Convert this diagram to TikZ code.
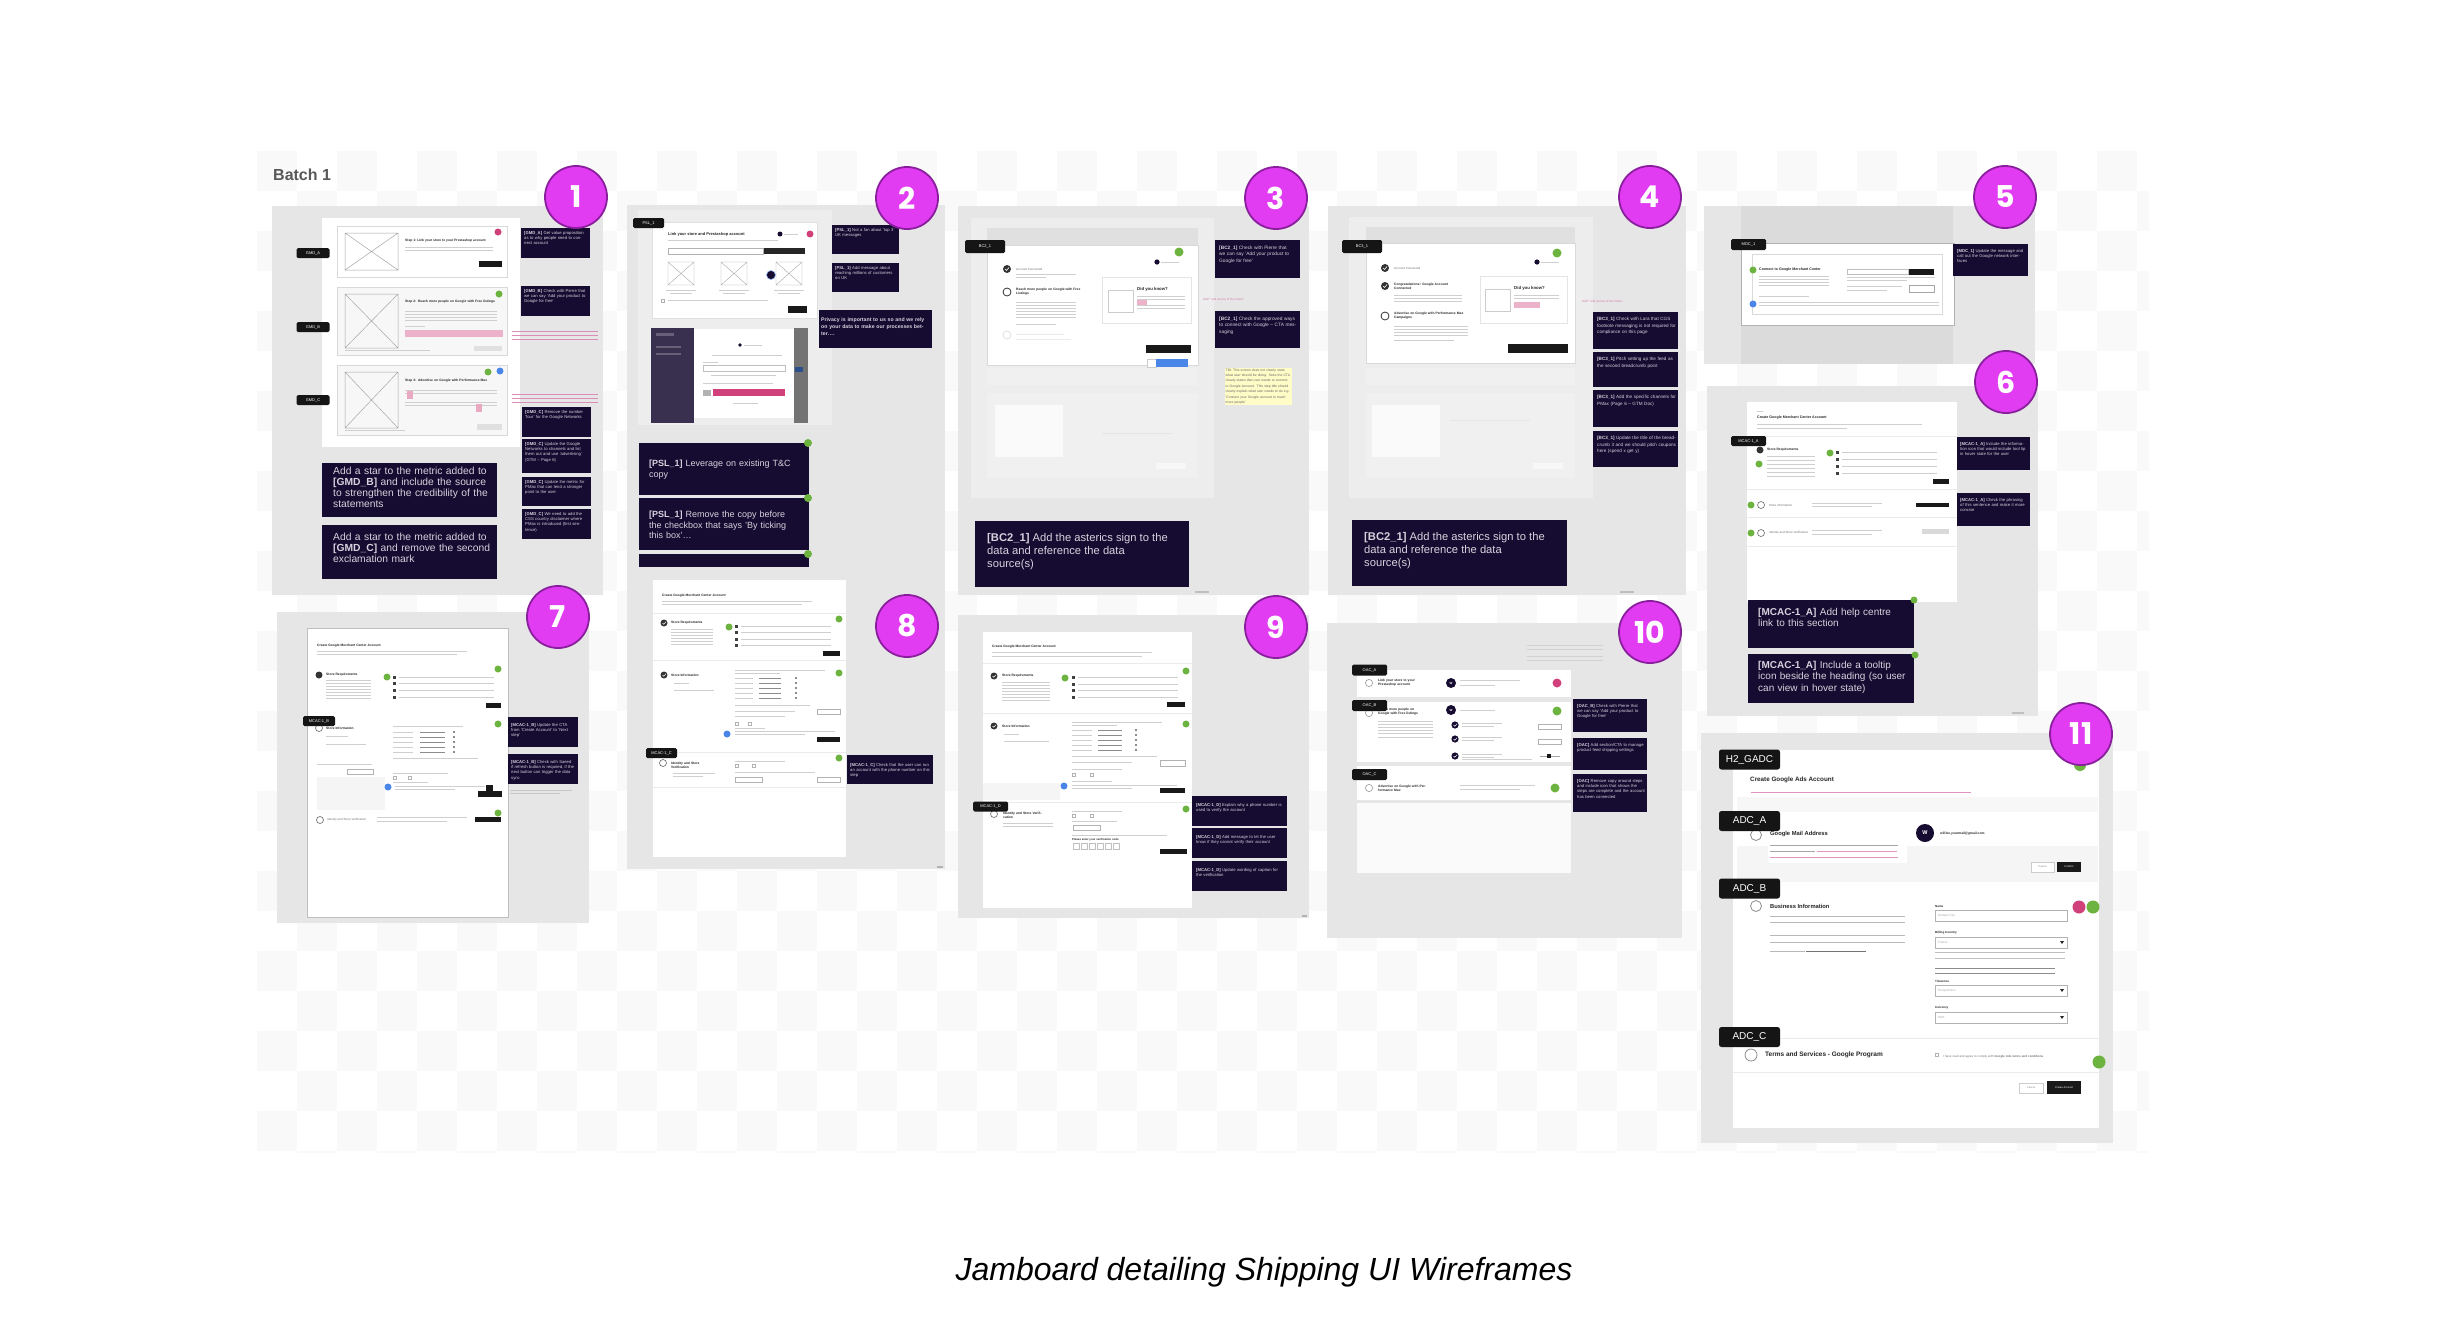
\documentclass[tikz,border=0pt]{standalone}
\usepackage{fontspec}
\setmainfont{Liberation Sans}
\newfontfamily\numfont{Poppins}
\usetikzlibrary{positioning}
\definecolor{panelgray}{HTML}{E6E6E6}
\definecolor{innergray}{HTML}{EDEDED}
\definecolor{notebg}{HTML}{160B30}
\definecolor{notefg}{HTML}{D6D3DE}
\definecolor{tagbg}{HTML}{151515}
\definecolor{badge}{HTML}{E23CF2}
\definecolor{badgeline}{HTML}{8A1F9E}
\definecolor{dotgreen}{HTML}{6DB33F}
\definecolor{dotpink}{HTML}{D0407A}
\definecolor{dotblue}{HTML}{4A86E8}
\definecolor{linkpink}{HTML}{C2408A}
\definecolor{barcol}{HTML}{CFCFCF}

\begin{document}
\begin{tikzpicture}[x=1pt,y=-1pt,
  badgenode/.style={circle,fill=badge,draw=badgeline,line width=1.8pt,minimum size=62pt,inner sep=0pt,text=white,font=\numfont\bfseries\fontsize{30}{30}\selectfont},
  tagnode/.style={fill=tagbg,text=white,rounded corners=1.5pt,inner sep=0pt,minimum width=33pt,minimum height=10pt,font=\fontsize{4}{4}\selectfont},
  bigtag/.style={fill=tagbg,text=white,rounded corners=2.5pt,inner sep=0pt,minimum width=61pt,minimum height=20pt,font=\fontsize{10}{10}\selectfont},
  snote/.style={anchor=north west,text=notefg,align=left,inner sep=0pt,font=\fontsize{4.2}{5.3}\selectfont},
  bnote/.style={anchor=north west,text=notefg,align=left,inner sep=0pt,font=\fontsize{10.3}{11}\selectfont},
  wfhead/.style={anchor=west,inner sep=0pt,align=left,text=black!85,font=\bfseries\fontsize{3.3}{4}\selectfont},
  wftext/.style={anchor=west,inner sep=0pt,align=left,text=black!55,font=\fontsize{3}{3.6}\selectfont}]

\useasboundingbox (0,0) rectangle (2442,1336);
\fill[white] (0,0) rectangle (2442,1336);
\begin{scope}
  \clip (257,151) rectangle (2149,1152);
  \foreach \i in {0,2,...,46}
    \foreach \j in {0,2,...,24} {
      \fill[black!2.5] (257+\i*40,151+\j*40) rectangle ++(40,40);
      \fill[black!2.5] (297+\i*40,191+\j*40) rectangle ++(40,40);
    }
\end{scope}
\node[anchor=west,inner sep=0pt,text=black!65,font=\bfseries\fontsize{16}{16}\selectfont] (batch) at (273,175) {Batch 1};

% panel 1
\fill[panelgray] (272,206) rectangle (603,595);
\fill[white] (322,218) rectangle (520,447);
\foreach \y/\h/\f in {226/51/white,287/68/black!3,365/70/black!3} {
  \filldraw[fill=\f,draw=black!15,line width=0.6pt] (337,\y) rectangle ++(170,\h);
  \draw[black!35,line width=0.5pt] (345,\y+7) rectangle ++(53,\h-14) (345,\y+7) -- ++(53,\h-14) (398,\y+7) -- ++(-53,\h-14);
}
\node[wfhead] (gmdh1) at (405,241) {Step 1: Link your store to your Prestashop account};
\node[wfhead,text width=95pt] (gmdh2) at (405,302) {Step 2: Reach more people on Google with Free listings};
\node[wfhead,text width=90pt] (gmdh3) at (405,381) {Step 3: Advertise on Google with Performance Max};
\foreach \y in {247,250} \fill[barcol] (405,\y) rectangle ++(88,1.1);
\foreach \y in {311,314,317,320} \fill[barcol] (405,\y) rectangle ++(92,1.1);
\foreach \y in {390,393,402,405} \fill[barcol] (405,\y) rectangle ++(92,1.1);
\fill[barcol] (405,326) rectangle ++(20,1.1);
\fill[dotpink!40] (405,330) rectangle (503,337);
\fill[black!90] (479,261) rectangle (502,267);
\fill[black!12] (474,346) rectangle (502,351);
\fill[black!12] (477,424) rectangle (502,430);
\fill[dotpink!45] (407,391) rectangle (413,399);
\fill[dotpink!45] (476,404) rectangle (482,412);
\fill[barcol] (345,350) rectangle ++(85,1);
\fill[barcol] (345,430) rectangle ++(60,1);
\fill[dotpink] (498,232) circle (3.5);
\fill[dotgreen] (499,294) circle (3.5);
\fill[dotgreen] (488,372) circle (3.5);
\fill[dotblue] (500,371) circle (3.5);
\foreach \y in {331,335,339} \fill[linkpink!60] (512,\y) rectangle ++(86,0.9);
\foreach \y in {394,398,402} \fill[linkpink!60] (512,\y) rectangle ++(86,0.9);
\node[tagnode] (gmda) at (313,253) {GMD\_A};
\node[tagnode] (gmdb) at (313,327) {GMD\_B};
\node[tagnode] (gmdc) at (313,400) {GMD\_C};
\foreach \x/\y/\h/\t [count=\k] in {521/228/30/{\textbf{[GMD\_A]} Get value proposition as to why people need to connect account},
  521/286/30/{\textbf{[GMD\_B]} Check with Pierre that we can say 'Add your product to Google for free'},
  522/407/30/{\textbf{[GMD\_C]} Remove the number 'four' for the Google Networks},
  522/439/34/{\textbf{[GMD\_C]} Update the Google Networks to channels and list them out and use 'advertising' (GTM -- Page 6)},
  522/477/29/{\textbf{[GMD\_C]} Update the metric for PMax that can lend a stronger point to the user},
  522/509/30/{\textbf{[GMD\_C]} We need to add the CSS country disclaimer where PMax is introduced (first sentence)}} {
  \fill[notebg] (\x,\y) rectangle ++(69,\h);
  \node[snote,text width=63pt] (gmdnote\k) at (\x+3,\y+3) {\t};
}
\fill[notebg] (322,463) rectangle (497,517);
\node[bnote,text width=160pt] (gmdbig1) at (333,467) {Add a star to the metric added to \textbf{[GMD\_B]} and include the source to strengthen the credibility of the statements};
\fill[notebg] (322,525) rectangle (497,579);
\node[bnote,text width=160pt] (gmdbig2) at (333,533) {Add a star to the metric added to \textbf{[GMD\_C]} and remove the second exclamation mark};

% panel 2
\fill[panelgray] (627,205) rectangle (945,578);
\fill[innergray] (638,210) rectangle (832,425);
\filldraw[fill=white,draw=black!12] (652,222) rectangle (817,318);
\node[wfhead,font=\bfseries\fontsize{4}{5}\selectfont] (pslhead) at (668,234) {Link your store and Prestashop account};
\fill[barcol] (668,240) rectangle ++(110,1.1);
\draw[black!30,line width=0.4pt] (668,248) rectangle (763,254);
\fill[black!85] (764,248) rectangle (805,254);
\foreach \x in {668,721,776} {
  \draw[black!35,line width=0.4pt] (\x,262) rectangle ++(26,23) (\x,262) -- ++(26,23) (\x+26,262) -- ++(-26,23);
  \fill[barcol] (\x-2,290) rectangle ++(30,1);
  \fill[barcol] (\x+2,293) rectangle ++(22,1);
}
\filldraw[fill=notebg,draw=dotblue!60,line width=0.6pt] (771,275) circle (4.5);
\draw[black!30,line width=0.4pt] (661,299) rectangle ++(3,3);
\fill[barcol] (668,300) rectangle ++(100,1);
\fill[black!90] (788,306) rectangle (807,313);
\fill[notebg] (780,234) circle (2.5);
\fill[barcol] (784,233.5) rectangle ++(14,1);
\fill[dotpink] (810,234) circle (3.5);
\fill[notebg!85!white] (651,328) rectangle (694,423);
\fill[white!35!notebg] (656,333) rectangle ++(18,3);
\fill[white!35!notebg] (656,346) rectangle ++(25,1.5);
\fill[white!35!notebg] (656,353) rectangle ++(25,1.5);
\fill[white] (694,329) rectangle (794,418);
\fill[black!55] (794,328) rectangle (808,423);
\fill[dotblue!60!black] (795,367) rectangle (803,372);
\fill[notebg] (740,345) circle (1.8);
\fill[barcol] (744,344.5) rectangle ++(18,1);
\fill[barcol] (712,355) rectangle ++(70,1.2);
\fill[barcol] (703,362) rectangle ++(15,1);
\draw[black!25,line width=0.4pt] (703,365) rectangle (785,371);
\fill[barcol] (711,375) rectangle ++(65,0.9);
\fill[barcol] (703,383) rectangle ++(70,0.9);
\fill[black!30] (703,390) rectangle (711,396);
\fill[dotpink] (713,389) rectangle (785,396);
\fill[barcol] (733,403) rectangle ++(25,0.9);
\node[tagnode,minimum width=31pt] (psl) at (648.5,223) {PSL\_1};
\foreach \y/\t [count=\k] in {225/{\textbf{[PSL\_1]} Not a fan about 'top 3' UK messages},
  263/{\textbf{[PSL\_1]} Add message about reaching millions of customers on UK}} {
  \fill[notebg] (832,\y) rectangle ++(67,29);
  \node[snote,text width=61pt] (pslnote\k) at (835,\y+3) {\t};
}
\fill[notebg] (819,310) rectangle (932,348);
\node[snote,text width=106pt,font=\bfseries\fontsize{5.2}{7}\selectfont] (pslpriv) at (821,318) {Privacy is important to us so and we rely on your data to make our processes better\dots.};
\fill[notebg] (639,443) rectangle (809,495);
\node[bnote,text width=150pt,font=\fontsize{9}{10.5}\selectfont] (pslbig1) at (649,460) {\textbf{[PSL\_1]} Leverage on existing T\&C copy};
\fill[notebg] (639,498) rectangle (809,550);
\node[bnote,text width=150pt,font=\fontsize{9}{10.5}\selectfont] (pslbig2) at (649,511) {\textbf{[PSL\_1]} Remove the copy before the checkbox that says 'By ticking this box'\dots};
\fill[notebg] (639,554) rectangle (809,567);
\foreach \y in {443,498,554} \fill[dotgreen] (808,\y) circle (4);

% panel 3
\fill[panelgray] (958,206) rectangle (1309,595);
\fill[innergray] (971,218) rectangle (1214,498);
\fill[black!12] (987,228) rectangle (1198,245);
\filldraw[fill=white,draw=black!15] (987,245) rectangle (1198,365);
\fill[black!6] (987,368) rectangle (1198,385);
\fill[black!6] (987,393) rectangle (1198,478);
\fill[black!2] (995,405) rectangle (1063,457);
\fill[black!10] (1102,433) rectangle ++(70,1.2);
\fill[black!3] (1156,463) rectangle ++(30,6);
\fill[black!80] (1007,269) circle (4);
\draw[white,line width=0.6pt] (1005,269) -- (1006.5,270.5) -- (1009,267.5);
\node[wftext] (bc2s1) at (1016,269) {Account Connected};
\fill[barcol] (1016,274) rectangle ++(60,1);
\fill[barcol] (1016,277) rectangle ++(30,1);
\draw[black!80,line width=0.8pt] (1007,292) circle (4);
\node[wfhead,text width=70pt] (bc2s2) at (1016,292) {Reach more people on Google with Free Listings};
\foreach \y in {302,305,308,311,314,317} \fill[barcol] (1016,\y) rectangle ++(60,1);
\fill[barcol] (1016,324) rectangle ++(40,1);
\draw[black!12,line width=0.8pt] (1007,335) circle (4);
\fill[black!8] (1016,334) rectangle ++(48,1);
\fill[black!8] (1016,339) rectangle ++(55,1);
\filldraw[fill=white,draw=black!10] (1102,277) rectangle (1191,323);
\node[wfhead,font=\bfseries\fontsize{4.3}{5}\selectfont] (bc2dyk) at (1137,289) {Did you know?};
\draw[black!20,line width=0.3pt] (1108,290) rectangle (1133,312);
\foreach \y in {296,299,305,308} \fill[barcol] (1137,\y) rectangle ++(48,1);
\fill[dotpink!40] (1137,300) rectangle ++(10,5);
\fill[black!90] (1146,345) rectangle (1191,353);
\draw[black!20,line width=0.3pt,fill=white] (1147,359) rectangle (1156,367);
\fill[dotblue] (1156,359) rectangle (1188,367);
\fill[dotgreen] (1179,252) circle (4.5);
\fill[notebg] (1157,262) circle (2.6);
\fill[barcol] (1161,261.5) rectangle ++(18,1);
\node[tagnode,minimum width=40pt,minimum height=13pt] (bc2) at (985,246.5) {BC2\_1};
\foreach \y/\h/\t [count=\k] in {240/38/{\textbf{[BC2\_1]} Check with Pierre that we can say 'Add your product to Google for free'},
  311/37/{\textbf{[BC2\_1]} Check the approved ways to connect with Google -- CTA messaging}} {
  \fill[notebg] (1215,\y) rectangle ++(85,\h);
  \node[snote,text width=79pt,font=\fontsize{4.8}{6.3}\selectfont] (bc2note\k) at (1219,\y+6) {\t};
}
\node[anchor=west,inner sep=0pt,text=linkpink!70,font=\fontsize{3}{3}\selectfont] (bc2pink) at (1203,299) {Add * and source of the metric};
\node[anchor=north west,inner sep=0.5pt,fill=yellow!22,text=black!60,text width=66pt,align=left,font=\fontsize{3.4}{5.4}\selectfont] (bc2tbi) at (1225,368) {TBI: This screen does not clearly state what user should be doing. Sees the CTA clearly states that user needs to connect to Google Account. This step title should clearly explain what user needs to do e.g. 'Connect your Google account to reach more people'};
\fill[notebg] (975,521) rectangle (1189,587);
\node[bnote,font=\fontsize{11.2}{13.3}\selectfont] (bc2big) at (987,533) {\textbf{[BC2\_1]} Add the asterics sign to the\\ data and reference the data\\ source(s)};
\fill[black!25] (1195,591) rectangle ++(14,1.5);

% panel 4
\fill[panelgray] (1328,206) rectangle (1686,595);
\fill[innergray] (1349,217) rectangle (1593,498);
\fill[black!12] (1366,227) rectangle (1575,243);
\filldraw[fill=white,draw=black!15] (1366,243) rectangle (1575,363);
\fill[black!6] (1366,368) rectangle (1575,385);
\fill[black!6] (1366,393) rectangle (1575,478);
\fill[black!2] (1372,405) rectangle (1440,457);
\fill[black!10] (1450,420) rectangle ++(80,1.2);
\fill[black!3] (1533,463) rectangle ++(30,6);
\foreach \y in {268,286} {
  \fill[black!80] (1385,\y) circle (4);
  \draw[white,line width=0.6pt] (1383,\y) -- (1384.5,\y+1.5) -- (1387,\y-1.5);
}
\node[wftext] (bc3s1) at (1394,268) {Account Connected};
\node[wfhead,text width=60pt] (bc3s2) at (1394,286) {Congratulations! Google Account Connected};
\foreach \y in {295,298,301} \fill[barcol] (1394,\y) rectangle ++(68,1);
\draw[black!80,line width=0.8pt] (1385,316) circle (4);
\node[wfhead,text width=75pt] (bc3s3) at (1394,316) {Advertise on Google with Performance Max Campaigns};
\foreach \y in {326,329,332,335} \fill[barcol] (1394,\y) rectangle ++(74,1);
\fill[barcol] (1394,340) rectangle ++(60,1);
\filldraw[fill=white,draw=black!10] (1480,276) rectangle (1567,323);
\node[wfhead,font=\bfseries\fontsize{4.3}{5}\selectfont] (bc3dyk) at (1514,288) {Did you know?};
\draw[black!20,line width=0.3pt] (1485,289) rectangle (1510,311);
\foreach \y in {295,298} \fill[barcol] (1514,\y) rectangle ++(45,1);
\fill[dotpink!40] (1514,302) rectangle ++(26,6);
\fill[black!90] (1508,344) rectangle (1568,353);
\fill[dotgreen] (1557,253) circle (4.5);
\fill[notebg] (1537,262) circle (2.6);
\fill[barcol] (1541,261.5) rectangle ++(18,1);
\node[tagnode,minimum width=40pt,minimum height=13pt] (bc3) at (1362,246.5) {BC3\_1};
\node[anchor=west,inner sep=0pt,text=linkpink!70,font=\fontsize{3}{3}\selectfont] (bc3pink) at (1582,301) {Add * and source of the metric};
\foreach \y/\h/\t [count=\k] in {312/37/{\textbf{[BC3\_1]} Check with Lara that CGS footnote messaging is not required for compliance on this page},
  352/35/{\textbf{[BC3\_1]} Pitch setting up the feed as the second breadcrumb point},
  390/37/{\textbf{[BC3\_1]} Add the specific channels for PMax (Page 6 -- GTM Doc)},
  431/36/{\textbf{[BC3\_1]} Update the title of the breadcrumb 3 and we should pitch coupons here (spend x get y)}} {
  \fill[notebg] (1593,\y) rectangle ++(85,\h);
  \node[snote,text width=79pt,font=\fontsize{4.6}{6.6}\selectfont] (bc3note\k) at (1597,\y+5) {\t};
}
\fill[notebg] (1352,520) rectangle (1567,586);
\node[bnote,font=\fontsize{11.2}{13.3}\selectfont] (bc3big) at (1364,532) {\textbf{[BC2\_1]} Add the asterics sign to the\\ data and reference the data\\ source(s)};
\fill[black!25] (1620,591) rectangle ++(14,1.5);

% panel 5
\fill[panelgray] (1704,206) rectangle (2035,364);
\fill[black!14] (1741,206) rectangle (1953,364);
\filldraw[fill=white,draw=black!30] (1741,243) rectangle (1954,325);
\draw[black!15] (1752,254) rectangle (1942,314);
\node[wfhead,font=\bfseries\fontsize{3.6}{4}\selectfont] (mdchead) at (1759,270) {Connect to Google Merchant Center};
\foreach \y in {276,279,282,285} \fill[barcol] (1759,\y) rectangle ++(70,1);
\fill[barcol] (1759,296) rectangle ++(50,1);
\fill[barcol] (1759,302) rectangle ++(180,0.9);
\fill[barcol] (1759,305) rectangle ++(180,0.9);
\draw[black!25,line width=0.4pt] (1847,269) rectangle (1908,274);
\fill[black!90] (1909,269) rectangle (1934,275);
\fill[barcol] (1847,277) rectangle ++(88,0.9);
\fill[barcol] (1847,280) rectangle ++(60,0.9);
\fill[barcol] (1847,286) rectangle ++(55,0.9);
\fill[barcol] (1847,290) rectangle ++(40,0.9);
\draw[black!35,line width=0.4pt] (1909,285) rectangle (1934,292);
\fill[dotgreen] (1753,270) circle (3.5);
\fill[dotblue] (1753,304) circle (3.5);
\node[tagnode,minimum width=35pt,minimum height=11pt] (mdc) at (1748.5,244.5) {MDC\_1};
\fill[notebg] (1953,244) rectangle (2028,276);
\node[snote,text width=68pt] (mdcnote) at (1957,249) {\textbf{[MDC\_1]} Update the message and call out the Google network interfaces};

% panel 6
\fill[panelgray] (1707,386) rectangle (2038,716);
\fill[white] (1747,402) rectangle (1957,602);
\fill[barcol] (1757,411) rectangle ++(6,1);
\node[wfhead,font=\bfseries\fontsize{3.6}{4}\selectfont] (mcaahead) at (1757,418) {Create Google Merchant Center Account};
\fill[barcol] (1757,424) rectangle ++(165,0.9);
\fill[barcol] (1757,428) rectangle ++(90,0.9);
\foreach \y in {436,489,517,546} \draw[black!8,line width=0.5pt] (1747,\y) -- (1957,\y);
\fill[black!80] (1760,450) circle (3.5);
\node[wfhead] (mcaas1) at (1767,450) {Store Requirements};
\foreach \y in {456,460,464,468,472,476} \fill[barcol] (1767,\y) rectangle ++(48,0.9);
\foreach \y in {452,459,466,473} {
  \fill[black!75] (1836,\y-1.5) rectangle ++(3,3);
  \fill[barcol] (1842,\y-0.5) rectangle ++(95,1);
}
\fill[black!90] (1933,479) rectangle (1949,484);
\draw[black!60,line width=0.6pt,fill=white] (1761,505) circle (3.5);
\node[wftext] (mcaas2) at (1769,505) {Store Information};
\fill[barcol] (1812,503) rectangle ++(70,0.9);
\fill[barcol] (1812,506) rectangle ++(60,0.9);
\fill[black!90] (1916,503) rectangle (1949,507);
\draw[black!60,line width=0.6pt,fill=white] (1761,533) circle (3.5);
\node[wftext] (mcaas3) at (1769,533) {Identity and Store Verification};
\fill[barcol] (1812,530) rectangle ++(70,0.9);
\fill[barcol] (1812,534) rectangle ++(60,0.9);
\fill[black!15] (1922,529) rectangle (1949,534);
\foreach \x/\y in {1759/464,1830/453,1751/505,1751/533} \fill[dotgreen] (\x,\y) circle (3.5);
\node[tagnode,minimum width=35pt,minimum height=10pt] (mcaa) at (1748.5,441) {MCAC-1\_A};
\foreach \y/\t [count=\k] in {437/{\textbf{[MCAC-1\_A]} Include the information icon that would include tool tip in hover state for the user},
  493/{\textbf{[MCAC-1\_A]} Check the phrasing of this sentence and make it more concise}} {
  \fill[notebg] (1957,\y) rectangle ++(73,33);
  \node[snote,text width=67pt] (mcaanote\k) at (1960,\y+5) {\t};
}
\fill[notebg] (1748,600) rectangle (1914,648);
\node[bnote,text width=150pt,font=\fontsize{10}{11.4}\selectfont] (mcaabig1) at (1758,608) {\textbf{[MCAC-1\_A]} Add help centre link to this section};
\fill[notebg] (1748,654) rectangle (1914,703);
\node[bnote,text width=150pt,font=\fontsize{10}{11.4}\selectfont] (mcaabig2) at (1758,661) {\textbf{[MCAC-1\_A]} Include a tooltip icon beside the heading (so user can view in hover state)};
\fill[dotgreen] (1914,600) circle (3.5);
\fill[dotgreen] (1915,655) circle (3.5);
\fill[black!25] (2012,712) rectangle ++(12,1.5);

% panel 7
\fill[panelgray] (277,612) rectangle (589,923);
\filldraw[fill=white,draw=black!25] (307,628) rectangle (508,917);
\node[wfhead] (mcabhead) at (317,646) {Create Google Merchant Center Account};
\fill[barcol] (317,651) rectangle ++(150,0.9);
\fill[barcol] (317,654) rectangle ++(140,0.9);
\fill[black!80] (319,675) circle (3.5);
\node[wfhead] (mcabs1) at (326,675) {Store Requirements};
\foreach \y in {680,683,686,689,692,695,698} \fill[barcol] (326,\y) rectangle ++(45,0.9);
\foreach \y in {677,683,690,697} {
  \fill[black!75] (393,\y-1.5) rectangle ++(3,3);
  \fill[barcol] (399,\y-0.5) rectangle ++(95,1);
}
\fill[black!90] (486,703) rectangle (501,708);
\draw[black!60,line width=0.6pt,fill=white] (319,728) circle (3.5);
\node[wfhead] (mcabs2) at (326,728) {Store Information};
\fill[barcol] (326,736) rectangle ++(22,0.9);
\fill[barcol] (326,744) rectangle ++(40,0.9);
\fill[barcol] (393,726) rectangle ++(70,1);
\foreach \y in {732,737,742,747,752} {
  \fill[barcol] (393,\y) rectangle ++(20,1);
  \fill[black!45] (420,\y) rectangle ++(25,1);
  \fill[black!45] (453,\y-1) rectangle ++(2,2);
}
\fill[barcol] (393,758) rectangle ++(85,0.9);
\fill[barcol] (393,773) rectangle ++(55,0.9);
\draw[black!30,line width=0.3pt] (393,776) rectangle ++(3,3) (408,776) rectangle ++(3,3);
\fill[barcol] (393,782) rectangle ++(35,0.9);
\fill[barcol] (395,786) rectangle ++(90,0.9);
\fill[barcol] (395,789) rectangle ++(60,0.9);
\fill[black!90] (478,791) rectangle (502,797);
\fill[black!90] (486,785) rectangle (493,791);
\fill[barcol] (317,764) rectangle ++(55,1);
\draw[black!30,line width=0.4pt] (347,769) rectangle (373,774);
\fill[black!4] (317,777) rectangle (385,810);
\draw[black!60,line width=0.6pt,fill=white] (320,820) circle (3.5);
\node[wftext] (mcabs3) at (327,820) {Identity and Store Verification};
\fill[barcol] (377,817) rectangle ++(90,0.9);
\fill[barcol] (377,821) rectangle ++(70,0.9);
\fill[black!90] (475,817) rectangle (501,822);
\foreach \x/\y in {498/669,387/677,498/724,498/813} \fill[dotgreen] (\x,\y) circle (3.5);
\fill[dotblue] (388,787) circle (3.5);
\node[tagnode,minimum width=32pt] (mcab) at (319,721) {MCAC-1\_B};
\foreach \y/\t [count=\k] in {717/{\textbf{[MCAC-1\_B]} Update the CTA from 'Create Account' to 'Next step'},
  754/{\textbf{[MCAC-1\_B]} Check with Saeed if refresh button is required, if the next button can trigger the data sync}} {
  \fill[notebg] (508,\y) rectangle ++(70,30);
  \node[snote,text width=64pt] (mcabnote\k) at (511,\y+6) {\t};
}
\fill[black!22] (510,790) rectangle ++(62,0.9);
\fill[black!22] (510,793) rectangle ++(50,0.9);

% panel 8
\fill[panelgray] (627,578) rectangle (945,869);
\fill[white] (653,580) rectangle (846,857);
\node[wfhead] (mcachead) at (662,596) {Create Google Merchant Center Account};
\fill[barcol] (662,601) rectangle ++(150,0.9);
\fill[barcol] (662,604) rectangle ++(140,0.9);
\foreach \y in {613,660,752,787} \draw[black!8,line width=0.5pt] (653,\y) -- (846,\y);
\foreach \y in {623,675} {
  \fill[black!80] (664,\y) circle (3.5);
  \draw[white,line width=0.5pt] (662.5,\y) -- (663.8,\y+1.3) -- (666,\y-1.3);
}
\node[wfhead] (mcacs1) at (671,623) {Store Requirements};
\foreach \y in {629,632,635,638,641,644} \fill[barcol] (671,\y) rectangle ++(42,0.9);
\foreach \y in {626,632,639,645} {
  \fill[black!75] (735,\y-1.5) rectangle ++(3,3);
  \fill[barcol] (741,\y-0.5) rectangle ++(90,1);
}
\fill[black!90] (823,651) rectangle (840,656);
\node[wfhead] (mcacs2) at (671,675) {Store Information};
\fill[barcol] (674,683) rectangle ++(15,0.9);
\fill[barcol] (674,690) rectangle ++(40,0.9);
\fill[barcol] (735,670) rectangle ++(90,0.9);
\fill[barcol] (735,673) rectangle ++(45,0.9);
\foreach \y in {678,683,688,693,698} {
  \fill[barcol] (735,\y) rectangle ++(18,1);
  \fill[black!45] (759,\y) rectangle ++(22,1);
  \fill[black!45] (795,\y-1) rectangle ++(2,2);
}
\fill[barcol] (735,705) rectangle ++(75,0.9);
\fill[barcol] (735,711) rectangle ++(60,0.9);
\fill[barcol] (735,716) rectangle ++(50,0.9);
\draw[black!30,line width=0.4pt] (817,709) rectangle (840,714);
\draw[black!30,line width=0.3pt] (735,722) rectangle ++(3,3) (748,722) rectangle ++(3,3);
\fill[barcol] (735,728) rectangle ++(30,0.9);
\fill[barcol] (735,731) rectangle ++(100,0.9);
\fill[barcol] (735,734) rectangle ++(70,0.9);
\fill[black!90] (817,737) rectangle (840,742);
\draw[black!60,line width=0.6pt,fill=white] (663,763) circle (3.5);
\node[wfhead,text width=32pt] (mcacs3) at (671,765) {Identity and Store Verification};
\fill[barcol] (673,773) rectangle ++(42,0.9);
\fill[barcol] (673,776) rectangle ++(30,0.9);
\fill[barcol] (735,761) rectangle ++(50,0.9);
\draw[black!30,line width=0.3pt] (735,764) rectangle ++(3,3) (752,764) rectangle ++(3,3);
\fill[barcol] (735,772) rectangle ++(80,0.9);
\draw[black!30,line width=0.4pt] (735,777) rectangle (762,782);
\draw[black!30,line width=0.4pt] (817,777) rectangle (840,782);
\foreach \x/\y in {839/619,729/627,839/673,839/758} \fill[dotgreen] (\x,\y) circle (3.5);
\fill[dotblue] (727,734) circle (3.5);
\node[tagnode,minimum width=31pt] (mcac) at (661.5,753) {MCAC-1\_C};
\fill[notebg] (847,755) rectangle (933,784);
\node[snote,text width=80pt] (mcacnote) at (850,763) {\textbf{[MCAC-1\_C]} Check that the user can run an account with the phone number on this step};
\fill[black!30] (937,866) rectangle ++(6,1.5);

% panel 9
\fill[panelgray] (958,615) rectangle (1309,918);
\fill[white] (983,632) rectangle (1192,908);
\node[wfhead] (mcadhead) at (992,647) {Create Google Merchant Center Account};
\fill[barcol] (992,652) rectangle ++(160,0.9);
\fill[barcol] (992,656) rectangle ++(150,0.9);
\foreach \y in {663,713,802} \draw[black!8,line width=0.5pt] (983,\y) -- (1192,\y);
\foreach \y in {676,726} {
  \fill[black!80] (994,\y) circle (3.5);
  \draw[white,line width=0.5pt] (992.5,\y) -- (993.8,\y+1.3) -- (996,\y-1.3);
}
\node[wfhead] (mcads1) at (1002,676) {Store Requirements};
\foreach \y in {682,685,688,691,694,697,700} \fill[barcol] (1002,\y) rectangle ++(48,0.9);
\foreach \y in {677,684,690,697} {
  \fill[black!75] (1072,\y-1.5) rectangle ++(3,3);
  \fill[barcol] (1078,\y-0.5) rectangle ++(100,1);
}
\fill[black!90] (1167,702) rectangle (1185,707);
\node[wfhead] (mcads2) at (1002,726) {Store Information};
\fill[barcol] (1004,734) rectangle ++(15,0.9);
\fill[barcol] (1004,741) rectangle ++(45,0.9);
\fill[barcol] (1072,722) rectangle ++(90,0.9);
\fill[barcol] (1072,725) rectangle ++(45,0.9);
\foreach \y in {730,735,740,745,750} {
  \fill[barcol] (1072,\y) rectangle ++(20,1);
  \fill[black!45] (1098,\y) rectangle ++(24,1);
  \fill[black!45] (1135,\y-1) rectangle ++(2,2);
}
\fill[barcol] (1072,756) rectangle ++(85,0.9);
\fill[barcol] (1072,762) rectangle ++(60,0.9);
\draw[black!30,line width=0.4pt] (1160,760) rectangle (1185,766);
\fill[barcol] (1072,769) rectangle ++(50,0.9);
\draw[black!30,line width=0.3pt] (1072,773) rectangle ++(3,3) (1090,773) rectangle ++(3,3);
\fill[barcol] (1072,781) rectangle ++(40,0.9);
\fill[barcol] (1072,785) rectangle ++(105,0.9);
\fill[barcol] (1072,788) rectangle ++(60,0.9);
\fill[black!90] (1160,788) rectangle (1185,793);
\fill[black!4] (983,783) rectangle (1060,800);
\draw[black!60,line width=0.6pt,fill=white] (994,814) circle (3.5);
\node[wfhead,text width=40pt] (mcads3) at (1003,815) {Identity and Store Verification};
\foreach \y in {823,826} \fill[barcol] (1003,\y) rectangle ++(50,0.9);
\fill[barcol] (1072,811) rectangle ++(50,0.9);
\draw[black!30,line width=0.3pt] (1072,814) rectangle ++(3,3) (1090,814) rectangle ++(3,3);
\fill[barcol] (1072,821) rectangle ++(45,0.9);
\draw[black!30,line width=0.4pt] (1073,825) rectangle (1100,830);
\fill[barcol] (1072,835) rectangle ++(95,0.9);
\node[wfhead,font=\bfseries\fontsize{2.8}{3}\selectfont] (mcadcode) at (1072,839.5) {Please enter your verification code};
\foreach \x in {1073,1081,1089,1097,1105,1113} \draw[black!25,line width=0.3pt] (\x,843) rectangle ++(6,6);
\fill[black!90] (1160,849) rectangle (1187,854);
\foreach \x/\y in {1186/671,1065/678,1186/724,1186/809} \fill[dotgreen] (\x,\y) circle (3.5);
\fill[dotblue] (1064,786) circle (3.5);
\node[tagnode,minimum width=35pt] (mcad) at (990.5,806.5) {MCAC-1\_D};
\foreach \y/\t [count=\k] in {796/{\textbf{[MCAC-1\_D]} Explain why a phone number is used to verify the account},
  828/{\textbf{[MCAC-1\_D]} Add message to let the user know if they cannot verify their account},
  861/{\textbf{[MCAC-1\_D]} Update wording of caption for the verification}} {
  \fill[notebg] (1192,\y) rectangle ++(95,30);
  \node[snote,text width=87pt] (mcadnote\k) at (1196,\y+7) {\t};
}
\fill[black!30] (1302,915) rectangle ++(5,1.5);

% panel 10
\fill[panelgray] (1327,623) rectangle (1682,938);
\foreach \y in {645,649,656,660} \fill[black!18] (1527,\y) rectangle ++(76,0.9);
\fill[white] (1357,670) rectangle (1571,697);
\fill[white] (1357,702) rectangle (1571,762);
\fill[white] (1357,766) rectangle (1571,800);
\fill[black!2] (1357,803) rectangle (1571,873);
\foreach \y in {683,713,788} \draw[black!40,line width=0.6pt] (1369,\y) circle (3.6);
\node[wfhead,text width=45pt] (oacs1) at (1378,683) {Link your store to your Prestashop account};
\node[wfhead,text width=48pt] (oacs2) at (1378,712) {Reach more people on Google with Free listings};
\node[wfhead,text width=50pt] (oacs3) at (1378,788) {Advertise on Google with Performance Max};
\foreach \y in {721,724,727,730,733,737} \fill[barcol] (1378,\y) rectangle ++(55,0.9);
\foreach \y/\nm in {683/oacwa,710/oacwb} {
  \fill[notebg] (1451,\y) circle (5);
  \node[text=white,inner sep=0pt,font=\bfseries\fontsize{3}{3}\selectfont] (\nm) at (1451,\y) {W};
}
\fill[barcol] (1460,680) rectangle ++(60,0.9);
\fill[barcol] (1460,685) rectangle ++(35,0.9);
\fill[barcol] (1460,710) rectangle ++(35,0.9);
\foreach \y in {725,739,756} {
  \fill[notebg] (1455,\y) circle (3.6);
  \draw[white,line width=0.5pt] (1453.5,\y) -- (1454.8,\y+1.3) -- (1457,\y-1.3);
  \fill[barcol] (1462,\y-2.5) rectangle ++(40,0.9);
  \fill[barcol] (1462,\y+0.5) rectangle ++(32,0.9);
}
\fill[barcol] (1462,759) rectangle ++(70,0.9);
\draw[black!30,line width=0.4pt] (1538,724) rectangle (1561,729);
\draw[black!30,line width=0.4pt] (1538,739) rectangle (1561,744);
\fill[black!35] (1540,756) rectangle ++(20,0.8);
\fill[black!90] (1547,754) rectangle ++(4,4);
\fill[barcol] (1460,785) rectangle ++(75,0.9);
\fill[barcol] (1460,789) rectangle ++(60,0.9);
\fill[dotpink] (1557,683) circle (4.5);
\fill[dotgreen] (1557,711) circle (4.5);
\fill[dotgreen] (1555,788) circle (4.5);
\node[tagnode,minimum width=35pt,minimum height=11pt] (oaca) at (1369.5,670) {OAC\_A};
\node[tagnode,minimum width=35pt,minimum height=11pt] (oacb) at (1369.5,705.5) {OAC\_B};
\node[tagnode,minimum width=35pt,minimum height=11pt] (oacc) at (1369.5,774.5) {OAC\_C};
\foreach \y/\h/\t [count=\k] in {699/33/{\textbf{[OAC\_B]} Check with Pierre that we can say 'Add your product to Google for free'},
  738/32/{\textbf{[OAC]} Add section/CTA to manage product feed shipping settings},
  774/38/{\textbf{[OAC]} Remove copy around steps and include icon that shows the steps are complete and the account has been connected}} {
  \fill[notebg] (1573,\y) rectangle ++(74,\h);
  \node[snote,text width=68pt] (oacnote\k) at (1577,\y+5) {\t};
}

% panel 11
\fill[panelgray] (1701,733) rectangle (2113,1143);
\fill[white] (1733,750) rectangle (2099,1128);
\node[wfhead,font=\bfseries\fontsize{6.3}{7}\selectfont] (gadchead) at (1750,780) {Create Google Ads Account};
\fill[linkpink!55] (1751,792) rectangle ++(220,1.1);
\fill[black!3] (1737,797) rectangle (2098,812);
\draw[black!45,line width=0.8pt] (1756,835) circle (5.5);
\node[wfhead,font=\bfseries\fontsize{5.8}{6}\selectfont] (adcah) at (1770,834) {Google Mail Address};
\fill[notebg] (1925,833) circle (9);
\node[text=white,inner sep=0pt,font=\bfseries\fontsize{5.5}{5.5}\selectfont] (adcaw) at (1925,833) {W};
\node[wfhead,font=\bfseries\fontsize{3.3}{4}\selectfont] (adcamail) at (1940,834) {will.be.yourmail@gmail.com};
\fill[black!4] (1737,846) rectangle (2098,882);
\fill[white] (1768,842) rectangle (1907,863);
\fill[black!35] (1770,845) rectangle ++(128,1);
\fill[black!35] (1770,851) rectangle ++(45,1);
\fill[linkpink!55] (1817,851) rectangle ++(80,1);
\fill[linkpink!55] (1770,857) rectangle ++(128,1);
\filldraw[fill=white,draw=black!20,line width=0.4pt] (2031,862) rectangle (2054,872);
\node[inner sep=0pt,text=black!50,font=\fontsize{2.6}{3}\selectfont] (adcacancel) at (2042.5,867) {Cancel};
\fill[black!90] (2057,862) rectangle (2081,872);
\node[inner sep=0pt,text=white,font=\fontsize{2.6}{3}\selectfont] (adcaconfirm) at (2069,867) {Confirm};
\draw[black!45,line width=0.8pt] (1756,906) circle (5.5);
\node[wfhead,font=\bfseries\fontsize{5.8}{6}\selectfont] (adcbh) at (1770,906) {Business Information};
\foreach \y in {916,922,935,942} \fill[black!28] (1770,\y) rectangle ++(135,1);
\fill[black!28] (1770,951) rectangle ++(35,1);
\fill[black!55] (1806,951) rectangle ++(60,1);
\foreach \ly/\lab/\val [count=\k] in {906/Name/Gotham City,933/Billing Country/France,981/Timezone/Europe\slash Paris,1008/Currency/EUR} {
  \node[wfhead,font=\bfseries\fontsize{3}{3}\selectfont] (adcblab\k) at (1935,\ly) {\lab};
  \draw[black!30,line width=0.5pt] (1935,\ly+4) rectangle (2067,\ly+15);
  \node[wftext,text=black!35,font=\fontsize{3}{3}\selectfont] (adcbval\k) at (1938,\ly+9.5) {\val};
}
\foreach \ly in {933,981,1008}
  \fill[black!85] (2060,\ly+8) -- (2064,\ly+8) -- (2062,\ly+11) -- cycle;
\foreach \y in {952,958} \fill[black!25] (1935,\y) rectangle ++(130,0.9);
\foreach \y in {968,973} \fill[black!45] (1935,\y) rectangle ++(120,0.9);
\fill[dotpink] (2079,907) circle (6.5);
\fill[dotgreen] (2093,907) circle (6.5);
\draw[black!8,line width=0.6pt] (1733,1038) -- (2099,1038);
\draw[black!45,line width=0.8pt] (1751,1055) circle (6);
\node[wfhead,font=\bfseries\fontsize{6.5}{7}\selectfont] (adcch) at (1765,1055) {Terms and Services - Google Program};
\draw[black!30,line width=0.4pt] (1935,1053) rectangle ++(3.5,3.5);
\node[wftext,text width=125pt,font=\fontsize{3}{4}\selectfont] (adccterms) at (1943,1057) {I have read and agree to comply with \textbf{Google Ads terms and conditions}};
\fill[dotgreen] (2099,1062) circle (6.5);
\draw[black!8,line width=0.6pt] (1733,1072) -- (2099,1072);
\filldraw[fill=white,draw=black!20,line width=0.4pt] (2019,1083) rectangle (2043,1093);
\node[inner sep=0pt,text=black!50,font=\fontsize{2.6}{3}\selectfont] (adccancel) at (2031,1088) {Cancel};
\fill[black!90] (2047,1081) rectangle (2081,1094);
\node[inner sep=0pt,text=white,font=\fontsize{2.6}{3}\selectfont] (adccreate) at (2064,1087.5) {Create Account};
\fill[dotgreen] (2080,765) circle (6);
\node[bigtag] (h2gadc) at (1749.5,759.5) {H2\_GADC};
\node[bigtag] (adca) at (1749.5,821) {ADC\_A};
\node[bigtag] (adcb) at (1749.5,888.5) {ADC\_B};
\node[bigtag] (adcc) at (1749.5,1037) {ADC\_C};

\foreach \n/\x/\y in {1/576/197,2/907/198,3/1276/198,4/1650/197,5/2005/197,6/2006/382,7/558/617,8/907/626,9/1276/627,10/1650/632,11/2081/734}
  \node[badgenode] (badge\n) at (\x,\y) {\n};

\node[anchor=base,inner sep=0pt,font=\itshape\fontsize{32}{32}\selectfont] (caption) at (1264,1280) {Jamboard detailing Shipping UI Wireframes};
\end{tikzpicture}
\end{document}
